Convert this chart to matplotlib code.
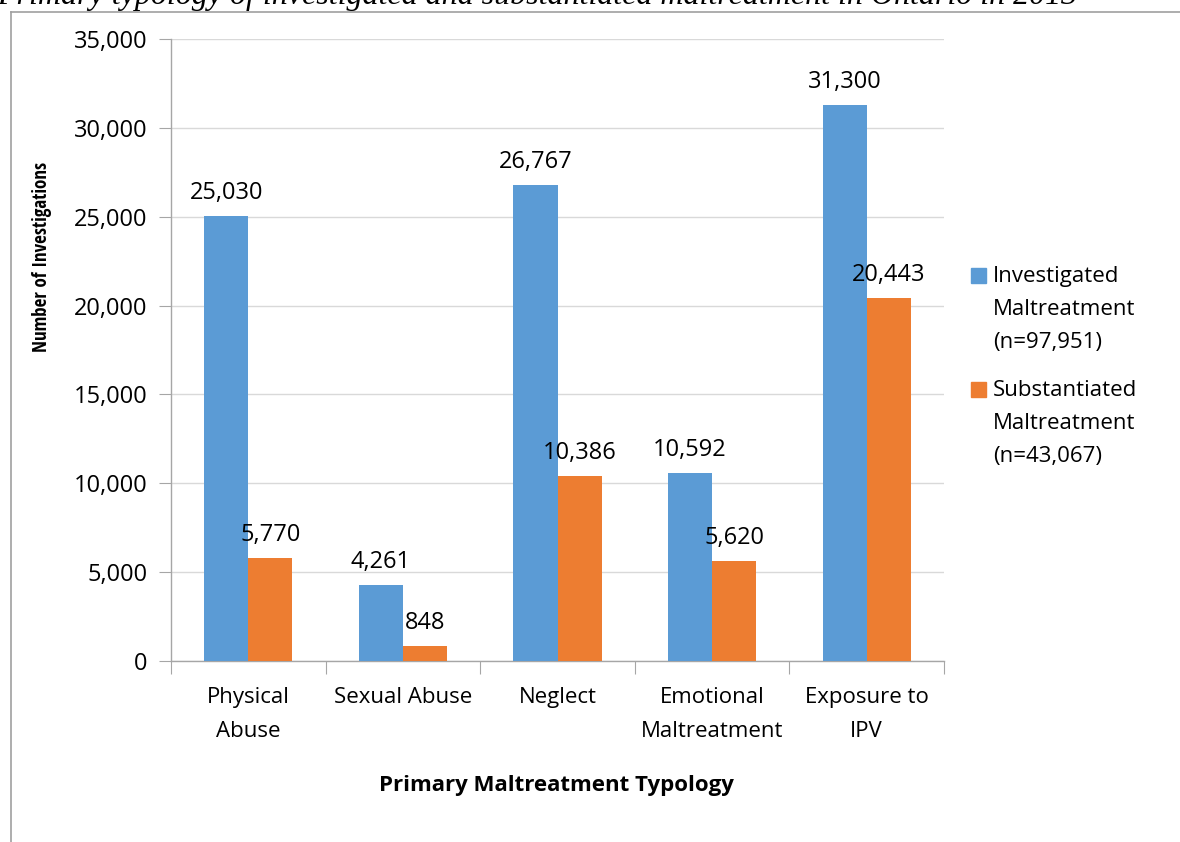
import matplotlib
matplotlib.use("Agg")
import matplotlib.pyplot as plt
from matplotlib.lines import Line2D
from matplotlib.patches import Rectangle
from matplotlib import font_manager
import numpy as np

categories = ["Physical\nAbuse", "Sexual Abuse", "Neglect", "Emotional\nMaltreatment", "Exposure to\nIPV"]
investigated = [25030, 4261, 26767, 10592, 31300]
substantiated = [5770, 848, 10386, 5620, 20443]
series_names = ["Investigated\nMaltreatment\n(n=97,951)", "Substantiated\nMaltreatment\n(n=43,067)"]
yticks = [0, 5000, 10000, 15000, 20000, 25000, 30000, 35000]
title = "Primary typology of investigated and substantiated maltreatment in Ontario in 2013"

BLUE = "#5B9BD5"
ORANGE = "#ED7D31"
FONT = ["Open Sans", "DejaVu Sans"]

available = {f.name for f in font_manager.fontManager.ttflist}
narrow = None
for cand in ["Liberation Sans Narrow", "Open Sans Condensed", "Roboto Condensed",
             "DejaVu Sans Condensed", "Lato"]:
    if cand in available:
        narrow = cand
        break
YL_FONT = [narrow, "DejaVu Sans"] if narrow else FONT
YL_STRETCH = "condensed" if narrow == "DejaVu Sans Condensed" else "normal"

W, H = 1180, 842
fig = plt.figure(figsize=(W / 100, H / 100), dpi=100)


def fx(x):
    return x / W


def fy(y):
    return 1 - y / H


# plot area in pixels: left 171, right 944, top 39, bottom 661
ax = fig.add_axes([fx(171), fy(661), fx(944 - 171), (661 - 39) / H])

n = len(categories)
x = np.arange(n)
bw = 0.285
b1 = ax.bar(x - bw / 2, investigated, bw, color=BLUE, zorder=3)
b2 = ax.bar(x + bw / 2, substantiated, bw, color=ORANGE, zorder=3)

for bars, vals in ((b1, investigated), (b2, substantiated)):
    for r, v in zip(bars, vals):
        ax.annotate(f"{v:,}", (r.get_x() + r.get_width() / 2, v), xytext=(0, 8),
                    textcoords="offset points", ha="center", va="bottom",
                    fontsize=17, family=FONT, color="#000000")

ax.set_xlim(-0.5, n - 0.5)
ax.set_ylim(0, 35000)
ax.set_yticks(yticks)
ax.set_yticklabels([f"{t:,}" for t in yticks], family=FONT, fontsize=17)
ax.yaxis.grid(True, color="#D9D9D9", linewidth=1, zorder=0)
ax.set_axisbelow(True)

ax.set_xticks(np.arange(-0.5, n, 1.0))
ax.set_xticklabels([])
ax.set_xticks(x, minor=True)
ax.set_xticklabels(categories, minor=True, family=FONT, fontsize=16, linespacing=1.76)
ax.tick_params(axis="x", which="minor", length=0, pad=19)
ax.tick_params(axis="x", which="major", length=9, color="#A6A6A6", direction="out")
ax.tick_params(axis="y", length=9, color="#A6A6A6", pad=8)

for s in ("top", "right"):
    ax.spines[s].set_visible(False)
for s in ("left", "bottom"):
    ax.spines[s].set_color("#A6A6A6")
    ax.spines[s].set_linewidth(1)

# y-axis title, sized so its length roughly matches the reference
yl = fig.text(fx(42), fy(257), "Number of Investigations", family=YL_FONT, fontsize=12,
              fontweight="bold", fontstretch=YL_STRETCH, rotation=90, ha="center", va="center")
renderer = fig.canvas.get_renderer()
ext = yl.get_window_extent(renderer)
yl.set_fontsize(12 * 190.0 / ext.height)

fig.text(fx(556), fy(785), "Primary Maltreatment Typology", family=FONT, fontsize=16,
         fontweight="bold", ha="center", va="center")

# legend drawn line by line
legend_colors = [BLUE, ORANGE]
entry_top_baseline = [282, 396]
line_step = 33
for name, col, base in zip(series_names, legend_colors, entry_top_baseline):
    fig.add_artist(Rectangle((fx(971), fy(base + 1)), fx(15), 15 / H, color=col,
                             transform=fig.transFigure))
    for i, line in enumerate(name.split("\n")):
        fig.text(fx(993), fy(base + i * line_step), line, family=FONT, fontsize=16,
                 ha="left", va="baseline")

# outer frame (partially visible)
fig.add_artist(Line2D([fx(11), 1.0], [fy(12), fy(12)], color="#A0A0A0", linewidth=1.2))
fig.add_artist(Line2D([fx(11), fx(11)], [fy(12), 0.0], color="#A0A0A0", linewidth=1.2))

# clipped title
fig.text(fx(-3), fy(4), title, family=["Liberation Serif", "DejaVu Serif"], style="italic",
         fontsize=23, ha="left", va="baseline")

fig.savefig("out.png", dpi=100)
